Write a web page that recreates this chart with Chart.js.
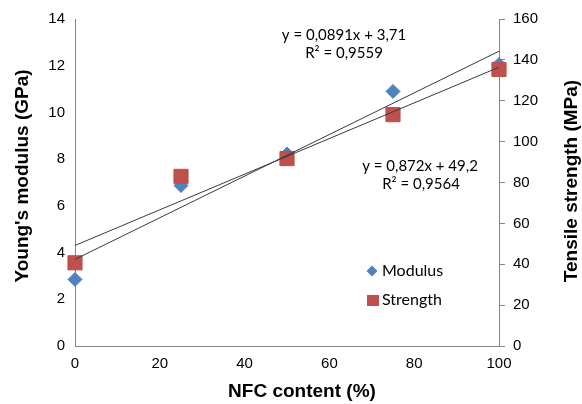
<!DOCTYPE html>
<html>
<head>
<meta charset="utf-8">
<script src="https://cdn.jsdelivr.net/npm/chart.js@4/dist/chart.umd.min.js"></script>
<style>
  html, body { margin: 0; padding: 0; background: #fff; }
  #wrap { width: 582px; height: 404px; }
</style>
</head>
<body>
<div id="wrap"><canvas id="c" width="582" height="404"></canvas></div>
<script>
// NFC content (%)
const nfc = [0, 25, 50, 75, 100];
// Young's modulus (GPa), left axis
const modulus = [2.85, 6.87, 8.22, 10.9, 12.05];
// Tensile strength (MPa), right axis
const strength = [40.7, 83, 91.7, 113.2, 135.3];
// linear trendlines as printed on the chart: [slope, intercept]
const modulusFit = [0.0891, 3.71];
const strengthFit = [0.872, 49.2];
const modulusLabel = ['y = 0,0891x + 3,71', 'R\u00b2 = 0,9559'];
const strengthLabel = ['y = 0,872x + 49,2', 'R\u00b2 = 0,9564'];
const fitRange = [0, 100];

const axisGray = '#868686';
const tickFont = { family: "'Liberation Sans', Arial, sans-serif", size: 15 };
const titleFont = "bold 19px 'Liberation Sans', Arial, sans-serif";
const noteFont = "15px Lato, 'Open Sans', sans-serif";

function points(xs, ys) {
    return xs.map((x, i) => ({ x: x, y: ys[i] }));
}
function fitLine(fit) {
    return fitRange.map(x => ({ x: x, y: fit[0] * x + fit[1] }));
}

// axis titles, regression notes and the little legend inside the plot
const extras = {
    id: 'extras',
    afterDraw(chart) {
        const ctx = chart.ctx;
        ctx.save();
        ctx.fillStyle = '#000';
        ctx.textBaseline = 'middle';

        ctx.font = titleFont;
        ctx.textAlign = 'center';
        ctx.fillText('NFC content (%)', 302, 392);
        ctx.save();
        ctx.translate(23, 176);
        ctx.rotate(-Math.PI / 2);
        ctx.fillText("Young's modulus (GPa)", 0, 0);
        ctx.restore();
        ctx.save();
        ctx.translate(572, 181);
        ctx.rotate(-Math.PI / 2);
        ctx.fillText('Tensile strength (MPa)', 0, 0);
        ctx.restore();

        ctx.font = noteFont;
        ctx.fillText(modulusLabel[0], 344, 35);
        ctx.fillText(modulusLabel[1], 344, 53);
        ctx.fillText(strengthLabel[0], 420, 166);
        ctx.fillText(strengthLabel[1], 421, 184);

        // legend
        ctx.fillStyle = '#4F81BD';
        ctx.beginPath();
        ctx.moveTo(372, 265.5);
        ctx.lineTo(377.5, 271);
        ctx.lineTo(372, 276.5);
        ctx.lineTo(366.5, 271);
        ctx.closePath();
        ctx.fill();
        ctx.fillStyle = '#C0504D';
        ctx.fillRect(367, 295, 12, 11);
        ctx.fillStyle = '#000';
        ctx.textAlign = 'left';
        ctx.font = "16px Lato, 'Open Sans', sans-serif";
        ctx.fillText('Modulus', 382, 271);
        ctx.fillText('Strength', 382, 300);
        ctx.restore();
    }
};

new Chart(document.getElementById('c'), {
    type: 'scatter',
    data: {
        datasets: [
            {
                label: 'Modulus trend',
                data: fitLine(modulusFit),
                yAxisID: 'y',
                showLine: true,
                borderColor: '#3a3a3a',
                borderWidth: 1,
                pointRadius: 0,
                clip: false,
                order: 0
            },
            {
                label: 'Strength trend',
                data: fitLine(strengthFit),
                yAxisID: 'y2',
                showLine: true,
                borderColor: '#3a3a3a',
                borderWidth: 1,
                pointRadius: 0,
                clip: false,
                order: 0
            },
            {
                label: 'Strength',
                data: points(nfc, strength),
                yAxisID: 'y2',
                pointStyle: 'rect',
                pointRadius: 10,
                backgroundColor: '#C0504D',
                borderColor: '#B9504D',
                borderWidth: 1,
                clip: false,
                order: 1
            },
            {
                label: 'Modulus',
                data: points(nfc, modulus),
                yAxisID: 'y',
                pointStyle: 'rectRot',
                pointRadius: 7,
                backgroundColor: '#4F81BD',
                borderColor: '#4F81BD',
                borderWidth: 1,
                clip: false,
                order: 2
            }
        ]
    },
    options: {
        responsive: false,
        animation: false,
        layout: { padding: { top: 16, left: 0, right: 0, bottom: 0 } },
        plugins: {
            legend: { display: false },
            tooltip: { enabled: false }
        },
        scales: {
            x: {
                type: 'linear',
                min: 0,
                max: 100,
                ticks: { stepSize: 20, color: '#000', font: tickFont, padding: 9 },
                grid: { drawOnChartArea: false, drawTicks: false },
                border: { color: axisGray, width: 1 },
                afterFit(scale) { scale.height = 58; }
            },
            y: {
                position: 'left',
                min: 0,
                max: 14,
                ticks: { stepSize: 2, color: '#000', font: tickFont, padding: 10 },
                grid: { drawOnChartArea: false, drawTicks: false },
                border: { color: axisGray, width: 1 },
                afterFit(scale) { scale.width = 75; }
            },
            y2: {
                position: 'right',
                min: 0,
                max: 160,
                ticks: { stepSize: 20, color: '#000', font: tickFont, padding: 8 },
                grid: { drawOnChartArea: false, drawTicks: true, tickLength: 6, color: axisGray },
                border: { color: axisGray, width: 1 },
                afterFit(scale) { scale.width = 83; }
            }
        }
    },
    plugins: [extras]
});
</script>
</body>
</html>
